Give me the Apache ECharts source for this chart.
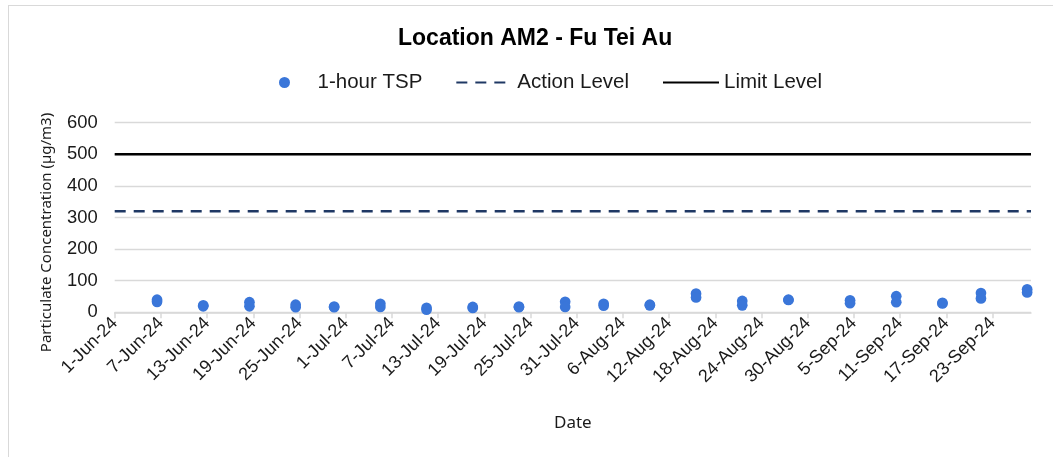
<!DOCTYPE html>
<html>
<head>
<meta charset="utf-8">
<script src="https://cdn.jsdelivr.net/npm/echarts@6/dist/echarts.min.js"></script>
<style>
    html, body { margin: 0; padding: 0; background: #fff; }
    #frame { position: absolute; left: 8px; top: 5px; width: 1100px; height: 500px; border: 1.5px solid #d9d9d9; }
    #chart { position: absolute; left: 0; top: 0; width: 1053px; height: 457px; }
</style>
</head>
<body>
<div id="frame"></div>
<div id="chart"></div>
<script>
    // sampling dates (two 1-hour TSP readings on each day)
    var sampleDates = [
        '2024-06-06', '2024-06-06', '2024-06-12', '2024-06-12', '2024-06-18', '2024-06-18',
        '2024-06-24', '2024-06-24', '2024-06-29', '2024-06-29', '2024-07-05', '2024-07-05',
        '2024-07-11', '2024-07-11', '2024-07-17', '2024-07-17', '2024-07-23', '2024-07-23',
        '2024-07-29', '2024-07-29', '2024-08-03', '2024-08-03', '2024-08-09', '2024-08-09',
        '2024-08-15', '2024-08-15', '2024-08-21', '2024-08-21', '2024-08-27', '2024-08-27',
        '2024-09-04', '2024-09-04', '2024-09-10', '2024-09-10', '2024-09-16', '2024-09-16',
        '2024-09-21', '2024-09-21', '2024-09-27', '2024-09-27'
    ];
    var tspValues = [
        40, 33, 22, 19, 32, 19,
        24, 16, 18, 16, 27, 17,
        14, 8, 17, 14, 18, 16,
        33, 17, 27, 21, 24, 22,
        59, 47, 36, 22, 40, 39,
        38, 29, 51, 32, 30, 28,
        61, 44, 73, 63
    ];
    var actionLevel = 320;
    var limitLevel = 500;
    var axisStart = '2024-06-01';
    var axisEnd = '2024-09-28';
    var yTicks = [0, 100, 200, 300, 400, 500, 600];
    var monthNames = ['Jan', 'Feb', 'Mar', 'Apr', 'May', 'Jun', 'Jul', 'Aug', 'Sep', 'Oct', 'Nov', 'Dec'];

    var DAY = 86400000;
    function toMs(s) {
        var p = s.split('-');
        return Date.UTC(+p[0], +p[1] - 1, +p[2]);
    }
    var t0 = toMs(axisStart);
    // days since start; readings sit mid-day like Excel's date axis
    function dayOf(s) {
        return (toMs(s) - t0) / DAY + 0.5;
    }
    var xMax = (toMs(axisEnd) - t0) / DAY;

    var points = sampleDates.map(function (d, i) {
        return [dayOf(d), tspValues[i]];
    });

    var chart = echarts.init(document.getElementById('chart'));
    var option = {
        animation: false,
        title: {
            text: 'Location AM2 - Fu Tei Au',
            left: 393,
            top: 22,
            textStyle: { fontFamily: 'Liberation Sans, Arial', fontSize: 23, fontWeight: 'bold', color: '#000' }
        },
        legend: {
            left: 274,
            top: 67,
            itemWidth: 56,
            itemHeight: 11,
            itemGap: 33,
            textStyle: { fontFamily: 'Liberation Sans, Arial', fontSize: 20.5, color: '#1a1a1a' },
            data: [
                '1-hour TSP',
                { name: 'Action Level', itemStyle: { opacity: 0 } },
                { name: 'Limit Level', itemStyle: { opacity: 0 } }
            ]
        },
        grid: { left: 114.7, right: 22, top: 122.7, bottom: 144.7 },
        xAxis: {
            type: 'value',
            min: 0,
            max: xMax,
            interval: 6,
            name: 'Date',
            nameLocation: 'middle',
            nameGap: 102,
            nameTextStyle: { fontFamily: 'Noto Sans', fontSize: 17, color: '#1a1a1a' },
            axisLine: { show: true, lineStyle: { color: '#d9d9d9', width: 1.5 } },
            axisTick: { show: true, length: 6, lineStyle: { color: '#d9d9d9', width: 1.5 } },
            splitLine: { show: false },
            axisLabel: {
                rotate: 45,
                margin: 8,
                showMaxLabel: false,
                fontFamily: 'Liberation Sans, Arial',
                fontSize: 18,
                color: '#1a1a1a',
                formatter: function (v) {
                    var d = new Date(t0 + v * DAY);
                    return d.getUTCDate() + '-' + monthNames[d.getUTCMonth()] + '-' + String(d.getUTCFullYear()).slice(2);
                }
            }
        },
        yAxis: {
            type: 'value',
            min: yTicks[0],
            max: yTicks[yTicks.length - 1],
            interval: yTicks[1] - yTicks[0],
            name: 'Particulate Concentration (µg/m3)',
            nameLocation: 'middle',
            nameGap: 60,
            nameTextStyle: { fontFamily: 'Noto Sans', fontSize: 15, color: '#1a1a1a', padding: [0, 30, 0, 0] },
            axisLine: { show: false },
            axisTick: { show: false },
            splitLine: { lineStyle: { color: '#d9d9d9', width: 1.3 } },
            axisLabel: { margin: 17, fontFamily: 'Liberation Sans, Arial', fontSize: 18.4, color: '#1a1a1a' }
        },
        series: [
            {
                name: '1-hour TSP',
                type: 'scatter',
                symbolSize: 10.7,
                itemStyle: { color: '#3a76d9', opacity: 1 },
                data: points,
                z: 3
            },
            {
                name: 'Action Level',
                type: 'line',
                symbol: 'none',
                lineStyle: { color: '#1f3864', width: 2.6, type: [11, 8] },
                data: [[0, actionLevel], [xMax, actionLevel]],
                z: 2
            },
            {
                name: 'Limit Level',
                type: 'line',
                symbol: 'none',
                lineStyle: { color: '#000', width: 2.6 },
                data: [[0, limitLevel], [xMax, limitLevel]],
                z: 2
            }
        ]
    };
    chart.setOption(option);
</script>
</body>
</html>
